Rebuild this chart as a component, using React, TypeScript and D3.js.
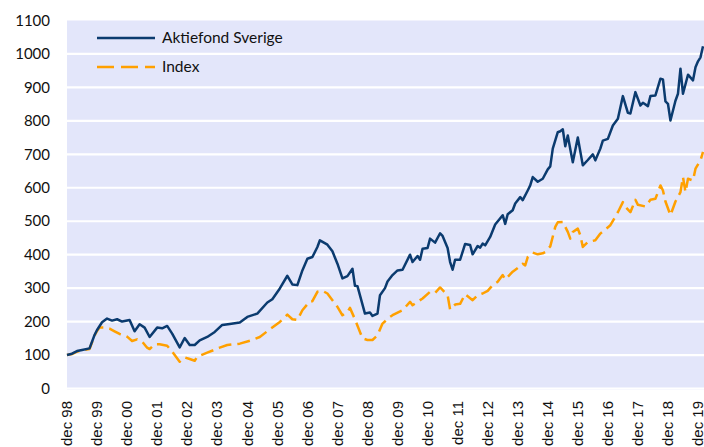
import React from "react";
import * as d3 from "d3";

// months since Dec 1998
const fundMonths = [0,2,4,6,9,11,12,14,16,18,20,22,25,27,29,31,33,36,38,40,42,45,47,49,51,53,56,59,62,65,69,72,76,80,82,85,88,90,92,94,96,98,100,101,104,106,108,110,112,114,115,116,119,121,122,124,125,127,128,130,132,134,137,138,140,141,142,144,145,147,149,150,152,153,154,155,157,159,161,162,164,165,166,167,169,171,174,175,176,178,179,181,182,184,185,186,188,190,192,193,194,196,197,198,199,200,201,202,204,206,208,210,211,213,214,216,218,220,222,224,225,227,229,230,232,233,235,237,238,239,240,241,243,244,245,246,248,250,251,252,253,254];
const fundValues = [100,104,112,115,120,160,175,198,209,203,207,200,205,171,192,182,154,182,180,187,164,123,151,130,130,144,154,169,190,193,197,214,224,257,267,299,337,311,309,353,388,393,423,443,430,410,373,329,336,358,307,306,224,227,217,224,279,300,320,339,353,355,400,378,396,385,418,420,448,436,464,456,420,378,355,385,385,432,429,401,426,421,433,428,453,490,518,492,521,533,553,572,563,592,607,632,618,627,655,664,717,766,769,775,724,756,715,676,750,667,683,700,682,717,741,746,786,806,874,824,822,886,846,854,844,874,876,926,924,858,851,801,860,881,956,881,938,921,960,978,990,1023];

const indexMonths = [0,2,4,6,9,11,12,13,15,17,19,21,23,24,26,28,30,32,33,35,37,40,42,45,47,49,51,52,56,61,64,69,74,77,81,85,88,90,92,94,97,98,100,102,104,106,108,110,112,113,115,118,120,122,124,126,129,130,134,137,138,140,142,145,147,149,152,153,155,157,159,162,164,166,168,170,172,174,175,178,180,182,183,184,186,188,190,191,193,195,196,198,200,201,202,204,205,206,208,211,213,217,220,222,223,225,227,228,231,233,235,237,238,239,241,243,245,246,247,248,250,251,253,254];
const indexValues = [100,103,110,114,118,158,172,182,182,179,171,163,159,155,142,147,140,122,118,132,132,128,110,80,93,88,83,95,107,122,130,134,145,154,177,199,221,207,205,234,261,261,289,292,284,264,244,219,229,241,207,150,145,145,159,194,214,219,234,259,249,259,269,289,286,302,279,236,251,253,282,264,279,284,292,309,319,339,326,349,360,373,368,393,406,401,404,408,425,483,497,498,468,448,468,478,458,423,438,443,463,488,527,557,543,527,564,549,544,564,567,607,592,559,518,559,587,632,587,627,622,657,682,707];

const yTicks = [0,100,200,300,400,500,600,700,800,900,1000,1100];
const xLabels = ["dec 98","dec 99","dec 00","dec 01","dec 02","dec 03","dec 04","dec 05","dec 06","dec 07","dec 08","dec 09","dec 10","dec 11","dec 12","dec 13","dec 14","dec 15","dec 16","dec 17","dec 18","dec 19"];
const seriesNames = ["Aktiefond Sverige", "Index"];

const W = 704, H = 447;
const BLUE = "#0B3B6F";
const ORANGE = "#FFA000";

export default function App() {
  const x = d3.scaleLinear().domain([0, 252]).range([67, 698]);
  const y = d3.scaleLinear().domain([0, 1100]).range([388.5, 20.5]);
  const line = d3.line<[number, number]>().x(d => x(d[0])).y(d => y(d[1]));
  const fund: [number, number][] = fundMonths.map((m, i) => [m, fundValues[i]]);
  const idx: [number, number][] = indexMonths.map((m, i) => [m, indexValues[i]]);
  const calibri = "Lato, 'Open Sans', sans-serif";
  return (
    <svg width={W} height={H} style={{ position: "absolute", left: 0, top: 0 }}>
      <rect x={0} y={0} width={W} height={H} fill="#fff" />
      <rect x={67} y={y(1100)} width={W - 67} height={y(0) - y(1100) + 1} fill="#E3E6FA" />
      {yTicks.filter(t => t > 0 && t < 1100).map(t => (
        <line key={t} x1={67} x2={W} y1={y(t)} y2={y(t)} stroke="#fff" strokeWidth={2.2} />
      ))}
      <line x1={67} x2={W} y1={y(0)} y2={y(0)} stroke="#fff" strokeWidth={2.2} />
      {yTicks.map(t => (
        <text key={t} x={50} y={y(t)} dy="0.35em" textAnchor="end" fontFamily={calibri} fontSize={15} fill="#111">{t}</text>
      ))}
      {xLabels.map((l, i) => (
        <text key={l} transform={`translate(${x(i * 12)},401) rotate(-90)`} dy="0.35em" textAnchor="end"
          fontFamily="'Liberation Sans', Arial, sans-serif" fontSize={15} fill="#111">{l}</text>
      ))}
      <path d={line(idx) || ""} fill="none" stroke={ORANGE} strokeWidth={2.5} strokeDasharray="13,6" strokeLinejoin="round" />
      <path d={line(fund) || ""} fill="none" stroke={BLUE} strokeWidth={2.5} strokeLinejoin="round" />
      <line x1={97} x2={155} y1={38} y2={38} stroke={BLUE} strokeWidth={2.5} />
      <text x={162} y={38} dy="0.35em" fontFamily={calibri} fontSize={15.5} fill="#111">{seriesNames[0]}</text>
      <line x1={97} x2={155} y1={67} y2={67} stroke={ORANGE} strokeWidth={2.5} strokeDasharray="17,7" />
      <text x={162} y={67} dy="0.35em" fontFamily={calibri} fontSize={15.5} fill="#111">{seriesNames[1]}</text>
    </svg>
  );
}
